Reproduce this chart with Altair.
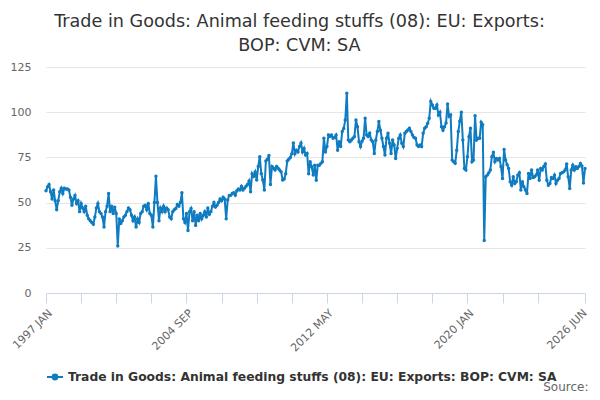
import altair as alt
import pandas as pd

# Monthly values, 1997 JAN .. 2026 JUN
values = [
    # 1997
    56.5, 58.7, 60, 56, 52, 57, 51, 46, 51, 56, 58, 55,
    # 1998
    58, 57.5, 57.5, 57, 53, 48.5, 52, 54, 49.5, 51, 45, 49.5,
    # 1999
    47, 45, 48, 43, 41, 40, 39, 38, 42, 47, 49.5, 45,
    # 2000
    44, 42, 36.5, 45, 48, 55, 45, 48, 44, 47.5, 44, 26,
    # 2001
    41, 38.5, 40, 42, 43, 45, 47, 46, 43, 40, 42, 36.5,
    # 2002
    41, 39, 44, 45, 48, 48.5, 46, 49.5, 44, 43, 36.5, 50,
    # 2003
    64.6, 50, 40, 47, 45, 48, 45, 47, 46, 42, 41, 45,
    # 2004
    46, 46.7, 49, 48, 50, 55.4, 41, 39, 44, 34.6, 45, 46.7,
    # 2005
    40, 45, 37.4, 43, 40, 44, 41, 43, 45, 42, 47, 43.5,
    # 2006
    45, 48, 50, 47.5, 48.5, 50, 52, 51, 53, 52, 41, 51.5,
    # 2007
    54, 54, 55, 55.5, 54, 56.6, 57.5, 57, 59, 57, 58, 59,
    # 2008
    60, 62, 56, 66, 64.5, 67, 62.5, 70, 75.4, 66, 62.5, 57,
    # 2009
    73, 74, 76, 60, 70, 69, 68, 70, 69, 68, 67, 62.5,
    # 2010
    63, 66, 73, 74, 75, 77, 83, 77, 79, 78, 81, 83,
    # 2011
    78, 80, 76.3, 77.2, 66, 72.6, 69.8, 65.2, 70.7, 62.4, 70.7, 70.7,
    # 2012
    71.7, 72.6, 85.6, 78, 81, 87.4, 86.5, 87.4, 85.6, 86, 87.4, 79,
    # 2013
    83.7, 81, 89.3, 91, 95.7, 110.5, 84.6, 83.7, 84.6, 85.6, 86.5, 95.7,
    # 2014
    92, 83.7, 81, 84, 85.6, 96.7, 87.4, 86.5, 88.3, 84.6, 83.7, 77.2,
    # 2015
    84.6, 89.3, 94.8, 90, 85.6, 81, 76.3, 85.6, 88.3, 82.8, 77.2, 84.6,
    # 2016
    81.9, 74.4, 80, 85.6, 87.4, 82.8, 81, 88.3, 89.3, 90.2, 91.1, 89.3,
    # 2017
    87.4, 86, 85.6, 81.9, 81, 81.9, 81, 88.3, 91.1, 92, 93.9, 96.7,
    # 2018
    105.9, 104, 102.2, 102.2, 104, 98.5, 100, 92, 90, 92, 94, 104.6,
    # 2019
    97.6, 98.5, 73.5, 72.6, 71.7, 79, 89.3, 95, 100, 84.6, 68.9, 68,
    # 2020
    75.4, 86.5, 91.1, 72.6, 73.5, 98, 84.6, 85.6, 85.6, 94.4, 93, 29,
    # 2021
    64.3, 65.2, 66.5, 68, 75.4, 77.8, 72.6, 74.4, 73.5, 74.4, 69.8, 63.3,
    # 2022
    79.4, 73.5, 71, 68.9, 61.5, 59.6, 64.3, 60.6, 61.5, 65.2, 66.5, 56.9,
    # 2023
    61.5, 58.7, 57, 55, 66.1, 63.3, 68, 63.9, 64.3, 65.2, 68, 62.4,
    # 2024
    68.9, 68, 70, 71.3, 62.4, 59.6, 60.6, 63.9, 63.3, 65.2, 60.6, 62.4,
    # 2025
    63.3, 66.1, 66.5, 67, 68, 71.3, 64.3, 57.8, 68, 70.7, 68, 69.8,
    # 2026
    68.9, 70, 71.7, 70.2, 60.9, 68.9,
]
months = list(range(len(values)))

series_name = "Trade in Goods: Animal feeding stuffs (08): EU: Exports: BOP: CVM: SA"
title_lines = ["Trade in Goods: Animal feeding stuffs (08): EU: Exports:", "BOP: CVM: SA"]

tick_positions = [0, 23, 46, 69, 92, 115, 138, 161, 184, 207, 230, 253, 276, 299, 322, 353]
label_positions = [0, 92, 184, 276, 353]
label_texts = ["1997 JAN", "2004 SEP", "2012 MAY", "2020 JAN", "2026 JUN"]
y_ticks = [0, 25, 50, 75, 100, 125]

label_expr = "''"
for p, t in reversed(list(zip(label_positions, label_texts))):
    label_expr = f"datum.value == {p} ? '{t}' : ({label_expr})"

last_test = f"datum.value == {label_positions[-1]}"

df = pd.DataFrame({"m": months, "v": values, "series": series_name})

BLUE = "#0f7cc1"
FONT = "DejaVu Sans"

chart = alt.Chart(df).mark_line(
    strokeWidth=2,
    point=alt.OverlayMarkDef(filled=True, size=12, color=BLUE),
).encode(
    x=alt.X(
        "m:Q",
        scale=alt.Scale(domain=[0, 353], nice=False, zero=False),
        axis=alt.Axis(
            values=tick_positions,
            labelExpr=label_expr,
            labelAngle=315,
            labelAlign="right",
            labelBaseline={"condition": {"test": last_test, "value": "middle"}, "value": "top"},
            labelPadding={"condition": {"test": last_test, "value": 8}, "value": 4},
            labelFontSize=11,
            labelColor="#666666",
            labelFont=FONT,
            labelOverlap=False,
            labelBound=False,
            labelFlush=False,
            tickColor="#ccd6eb",
            tickSize=10,
            domainColor="#ccd6eb",
            grid=False,
            title="Source:",
            titleFont=FONT,
            titleFontSize=12,
            titleFontWeight="normal",
            titleColor="#666666",
            titleAlign="right",
            titleBaseline="alphabetic",
            titleX=542,
            titleY=97,
        ),
    ),
    y=alt.Y(
        "v:Q",
        scale=alt.Scale(domain=[0, 125], nice=False),
        axis=alt.Axis(
            values=y_ticks,
            title=None,
            domain=False,
            ticks=False,
            gridColor="#e6e6e6",
            labelFontSize=11,
            labelColor="#666666",
            labelFont=FONT,
            labelPadding=15,
        ),
    ),
    color=alt.Color(
        "series:N",
        scale=alt.Scale(range=[BLUE]),
        legend=alt.Legend(
            title=None,
            orient="none",
            legendX=0,
            legendY=301,
            labelFont=FONT,
            labelFontSize=12.3,
            labelFontWeight="bold",
            labelColor="#333333",
            symbolType="M-1,0L1,0M-0.3,0A0.3,0.3,0,1,1,0.3,0A0.3,0.3,0,1,1,-0.3,0Z",
            symbolSize=256,
            symbolStrokeWidth=2,
            symbolFillColor=BLUE,
            symbolStrokeColor=BLUE,
            labelLimit=600,
        ),
    ),
).properties(
    width=539,
    height=226,
    autosize=alt.AutoSizeParams(type="none"),
    padding={"left": 38, "top": 59, "right": 7, "bottom": 99},
    title=alt.TitleParams(
        text=title_lines,
        font=FONT,
        fontSize=17.6,
        fontWeight="normal",
        color="#333333",
        anchor="middle",
        frame="bounds",
        lineHeight=24,
        offset=6,
    ),
).configure_view(strokeWidth=0)

chart.save("out.html", embed_options={"renderer": "svg", "actions": False})
